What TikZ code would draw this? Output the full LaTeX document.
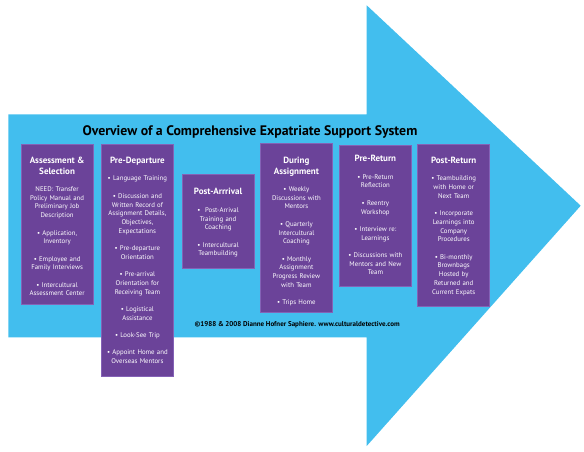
\documentclass[tikz,border=0pt]{standalone}
\usepackage{fontspec}
\setmainfont{PT Sans}
\usepackage{tikz}
\usetikzlibrary{positioning}
\definecolor{arrowBlue}{HTML}{42BEEE}
\definecolor{phaseFill}{HTML}{6B4399}
\definecolor{phaseEdge}{HTML}{8462B6}

\begin{document}
\begin{tikzpicture}[
  x=1pt, y=-1pt,
  phase/.style={
    draw=phaseEdge,
    fill=phaseFill,
    line width=0.8pt,
    anchor=north west,
    inner sep=0pt,
    minimum width=72pt
  },
  phase text/.style={
    text=white,
    text width=72pt,
    align=center,
    inner sep=0pt,
    font=\fontsize{6.8}{8.7}\selectfont\setlength{\parskip}{8.7pt}
  }
]
\useasboundingbox (0,0) rectangle (584,451);
\fill[arrowBlue] (8.3,114.3) -- (366.7,114.3) -- (366.7,5.3) -- (580.7,205.7)
  -- (366.7,446) -- (366.7,337.3) -- (8.3,337.3) -- cycle;
\node[anchor=base, font=\fontsize{13.8}{15}\selectfont\bfseries] (title) at (250,135)
  {Overview of a Comprehensive Expatriate Support System};
% phase boxes
\node[phase, minimum height=159.7pt] (assess) at (20.7,144.3) {};
\node[phase, minimum height=231.4pt] (predep) at (101,144.3) {};
\node[phase, minimum height=93.7pt] (postarr) at (181.7,174) {};
\node[phase, minimum height=169pt] (during) at (260,143.3) {};
\node[phase, minimum height=140.5pt] (preret) at (339,145) {};
\node[phase, minimum height=162pt] (postret) at (417.3,144) {};
% box texts
\node[phase text, below=12.7pt of assess.north] (assess-t) {%
  {\fontsize{9}{10.5}\selectfont\bfseries Assessment \&\\Selection\par}
  NEED: Transfer\\Policy Manual and\\Preliminary Job\\Description\par
  • Application,\\Inventory\par
  • Employee and\\Family Interviews\par
  • Intercultural\\Assessment Center\par};
\node[phase text, below=12.7pt of predep.north] (predep-t) {%
  {\fontsize{9}{10.5}\selectfont\bfseries Pre-Departure\par}
  • Language Training\par
  • Discussion and\\Written Record of\\Assignment Details,\\Objectives,\\Expectations\par
  • Pre-departure\\Orientation\par
  • Pre-arrival\\Orientation for\\Receiving Team\par
  • Logistical\\Assistance\par
  • Look-See Trip\par
  • Appoint Home and\\Overseas Mentors\par};
\node[phase text, below=14.3pt of postarr.north] (postarr-t) {%
  {\fontsize{9}{10.5}\selectfont\bfseries Post-Arrrival\par}
  •~~Post-Arrival\\Training and\\Coaching\par
  • Intercultural\\Teambuilding\par};
\node[phase text, below=13.7pt of during.north] (during-t) {%
  {\fontsize{9}{10.5}\selectfont\bfseries During\\Assignment\par}
  • Weekly\\Discussions with\\Mentors\par
  • Quarterly\\Intercultural\\Coaching\par
  • Monthly\\Assignment\\Progress Review\\with Team\par
  • Trips Home\par};
\node[phase text, below=10.3pt of preret.north] (preret-t) {%
  {\fontsize{9}{10.5}\selectfont\bfseries Pre-Return\par}
  • Pre-Return\\Reflection\par
  • Reentry\\Workshop\par
  • Interview re:\\Learnings\par
  • Discussions with\\Mentors and New\\Team\par};
\node[phase text, below=13pt of postret.north] (postret-t) {%
  {\fontsize{9}{10.5}\selectfont\bfseries Post-Return\par}
  • Teambuilding\\with Home or\\Next Team\par
  • Incorporate\\Learnings into\\Company\\Procedures\par
  • Bi-monthly\\Brownbags\\Hosted by\\Returned and\\Current Expats\par};
\node[anchor=base west, font=\fontsize{7}{8}\selectfont\bfseries] (credit) at (191,326.7)
  {©1988 \& 2008 Dianne Hofner Saphiere. www.culturaldetective.com};
\end{tikzpicture}
\end{document}
